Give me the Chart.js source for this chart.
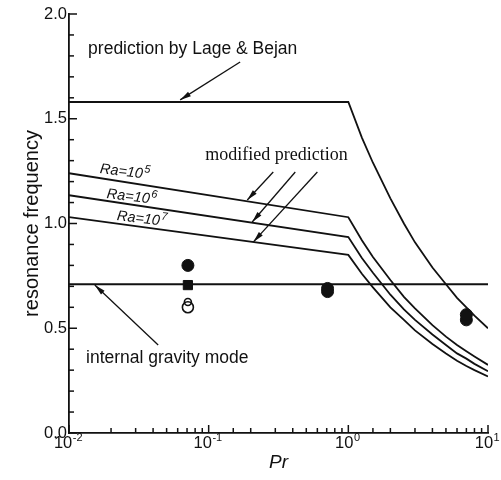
<!DOCTYPE html>
<html>
<head>
<meta charset="utf-8">
<script src="https://cdn.jsdelivr.net/npm/chart.js@4.4.0/dist/chart.umd.min.js"></script>
<style>
  html, body { margin: 0; padding: 0; background: #fff; }
  #wrap { width: 501px; height: 480px; }
</style>
</head>
<body>
<div id="wrap"><canvas id="c" width="501" height="480"></canvas></div>
<script>
// ---- data ----
const prCurve   = [0.01, 1, 1.25, 1.5, 2, 2.5, 3, 4, 5, 6, 7, 8, 10];
const freqLage  = [1.58, 1.58, 1.41, 1.29, 1.12, 1.00, 0.91, 0.79, 0.71, 0.645, 0.60, 0.56, 0.50];
const freqRa5   = [1.24, 1.03, 0.92, 0.84, 0.73, 0.65, 0.595, 0.515, 0.46, 0.42, 0.39, 0.365, 0.325];
const freqRa6   = [1.135, 0.935, 0.835, 0.765, 0.66, 0.59, 0.54, 0.47, 0.42, 0.38, 0.355, 0.33, 0.295];
const freqRa7   = [1.03, 0.85, 0.76, 0.695, 0.60, 0.54, 0.49, 0.425, 0.38, 0.345, 0.32, 0.30, 0.27];
const prGravity   = [0.01, 10];
const freqGravity = [0.71, 0.71];
const prFilled   = [0.071, 0.71, 0.71, 7, 7];
const freqFilled = [0.80, 0.675, 0.69, 0.54, 0.565];
const prSquare   = [0.071];
const freqSquare = [0.706];
const prOpen     = [0.071, 0.071];
const freqOpen   = [0.60, 0.625];
const yTickLabels = ['0.0', '0.5', '1.0', '1.5', '2.0'];
const xTickBase = '10';
const xTickExps = {'-2': '-2', '-1': '-1', '0': '0', '1': '1'};
const raLabels = [['Ra=10', '5'], ['Ra=10', '6'], ['Ra=10', '7']];

const pts = (xs, ys) => xs.map((v, i) => ({x: v, y: ys[i]}));

const lineDs = (label, xs, ys) => ({
  label, data: pts(xs, ys), showLine: true, borderColor: '#111', borderWidth: 1.8,
  pointRadius: 0, fill: false, tension: 0
});

const FONT = '"Liberation Sans", Arial, sans-serif';
const SERIF = '"Liberation Serif", "Times New Roman", serif';

const annoPlugin = {
  id: 'anno',
  afterDraw(chart) {
    const {ctx, scales: {x, y}, chartArea: ca} = chart;
    const X = v => x.getPixelForValue(v), Y = v => y.getPixelForValue(v);
    ctx.save();
    ctx.strokeStyle = '#111';
    ctx.fillStyle = '#111';
    // inward ticks
    ctx.lineWidth = 1.5;
    y.ticks.forEach(t => {
      const py = Y(t.value);
      const major = Math.abs(t.value * 2 - Math.round(t.value * 2)) < 1e-6;
      ctx.beginPath(); ctx.moveTo(ca.left, py); ctx.lineTo(ca.left + (major ? 8 : 5), py); ctx.stroke();
    });
    x.ticks.forEach(t => {
      const px = X(t.value);
      const l = Math.log10(t.value);
      const major = Math.abs(l - Math.round(l)) < 1e-6;
      ctx.beginPath(); ctx.moveTo(px, ca.bottom); ctx.lineTo(px, ca.bottom - (major ? 8 : 5)); ctx.stroke();
      if (major) {
        // label 10^k with a real superscript
        const e = xTickExps[String(Math.round(l))];
        ctx.textBaseline = 'alphabetic';
        ctx.textAlign = 'left';
        ctx.font = '16.5px ' + FONT;
        const wb = ctx.measureText(xTickBase).width;
        ctx.font = '11px ' + FONT;
        const we = ctx.measureText(e).width;
        const x0 = px - (wb + we) / 2 - 1;
        ctx.font = '16.5px ' + FONT;
        ctx.fillText(xTickBase, x0, ca.bottom + 15);
        ctx.font = '11px ' + FONT;
        ctx.fillText(e, x0 + wb + 0.5, ca.bottom + 8);
      }
    });

    const arrow = (x0, y0, x1, y1) => {
      const a = X(x0), b = Y(y0), c = X(x1), d = Y(y1);
      ctx.lineWidth = 1.3;
      ctx.beginPath(); ctx.moveTo(a, b); ctx.lineTo(c, d); ctx.stroke();
      const ang = Math.atan2(d - b, c - a);
      const L = 11, W = 2.6;
      ctx.beginPath();
      ctx.moveTo(c, d);
      ctx.lineTo(c - L * Math.cos(ang) + W * Math.sin(ang), d - L * Math.sin(ang) - W * Math.cos(ang));
      ctx.lineTo(c - L * Math.cos(ang) - W * Math.sin(ang), d - L * Math.sin(ang) + W * Math.cos(ang));
      ctx.closePath(); ctx.fill();
    };
    const text = (s, px, py, font) => {
      ctx.save();
      ctx.font = font;
      ctx.textBaseline = 'middle';
      ctx.textAlign = 'left';
      ctx.fillText(s, X(px), Y(py));
      ctx.restore();
    };
    const raText = (pair, px, py, rot) => {
      ctx.save();
      ctx.textBaseline = 'alphabetic';
      ctx.textAlign = 'left';
      ctx.translate(X(px), Y(py));
      ctx.rotate(rot * Math.PI / 180);
      ctx.font = 'italic 14.5px ' + FONT;
      ctx.fillText(pair[0], 0, 5);
      const w = ctx.measureText(pair[0]).width;
      ctx.font = 'italic 11px ' + FONT;
      ctx.fillText(pair[1], w + 1, -1);
      ctx.restore();
    };

    text('prediction by Lage & Bejan', 0.0137, 1.833, '17.5px ' + FONT);
    arrow(0.168, 1.771, 0.0625, 1.59);

    text('modified prediction', 0.0944, 1.327, '18px ' + SERIF);
    arrow(0.29, 1.246, 0.189, 1.112);
    arrow(0.417, 1.246, 0.205, 1.007);
    arrow(0.60, 1.246, 0.209, 0.912);

    text('internal gravity mode', 0.01324, 0.358, '17.5px ' + FONT);
    arrow(0.0435, 0.42, 0.0153, 0.706);

    raText(raLabels[0], 0.0167, 1.265, 7);
    raText(raLabels[1], 0.0187, 1.146, 7);
    raText(raLabels[2], 0.0221, 1.04, 7);
    ctx.restore();
  }
};

new Chart(document.getElementById('c'), {
  type: 'scatter',
  data: {
    datasets: [
      lineDs('prediction by Lage & Bejan', prCurve, freqLage),
      lineDs('Ra=10^5', prCurve, freqRa5),
      lineDs('Ra=10^6', prCurve, freqRa6),
      lineDs('Ra=10^7', prCurve, freqRa7),
      lineDs('internal gravity mode', prGravity, freqGravity),
      { label: 'filled circles', data: pts(prFilled, freqFilled), pointStyle: 'circle',
        pointRadius: 6, backgroundColor: '#111', borderColor: '#111', borderWidth: 1 },
      { label: 'filled squares', data: pts(prSquare, freqSquare), pointStyle: 'rect',
        pointRadius: 6.5, backgroundColor: '#111', borderColor: '#111', borderWidth: 1 },
      { label: 'open circles', data: pts(prOpen, freqOpen), pointStyle: 'circle',
        pointRadius: [5.5, 3.5], backgroundColor: 'rgba(255,255,255,0)', borderColor: '#111', borderWidth: 1.6 }
    ]
  },
  options: {
    responsive: false,
    animation: false,
    layout: { padding: { top: 14, right: 13, left: 0, bottom: 0 } },
    plugins: { legend: { display: false }, tooltip: { enabled: false } },
    scales: {
      x: {
        type: 'logarithmic', min: 0.01, max: 10,
        border: { display: true, color: '#111', width: 1.8 },
        grid: { display: false, drawTicks: false },
        ticks: {
          autoSkip: false, maxRotation: 0, padding: 3, color: '#111',
          font: { family: FONT, size: 16 },
          callback: () => ''
        },
        title: { display: true, text: 'Pr', color: '#111',
          font: { family: FONT, size: 19, style: 'italic' }, padding: { top: 0, bottom: 6 } },
        afterFit: s => { s.height = 47; }
      },
      y: {
        min: 0, max: 2,
        border: { display: true, color: '#111', width: 1.8 },
        grid: { display: false, drawTicks: false },
        ticks: {
          stepSize: 0.1, autoSkip: false, padding: 2, color: '#111',
          font: { family: FONT, size: 16.5 },
          callback: v => {
            const k = Math.round(v * 2);
            return Math.abs(v * 2 - k) < 1e-6 ? yTickLabels[k] : '';
          }
        },
        title: { display: true, text: 'resonance frequency', color: '#111',
          font: { family: FONT, size: 20 }, padding: { top: 20, bottom: 0 } },
        afterFit: s => { s.width = 69; }
      }
    }
  },
  plugins: [annoPlugin]
});
</script>
</body>
</html>
